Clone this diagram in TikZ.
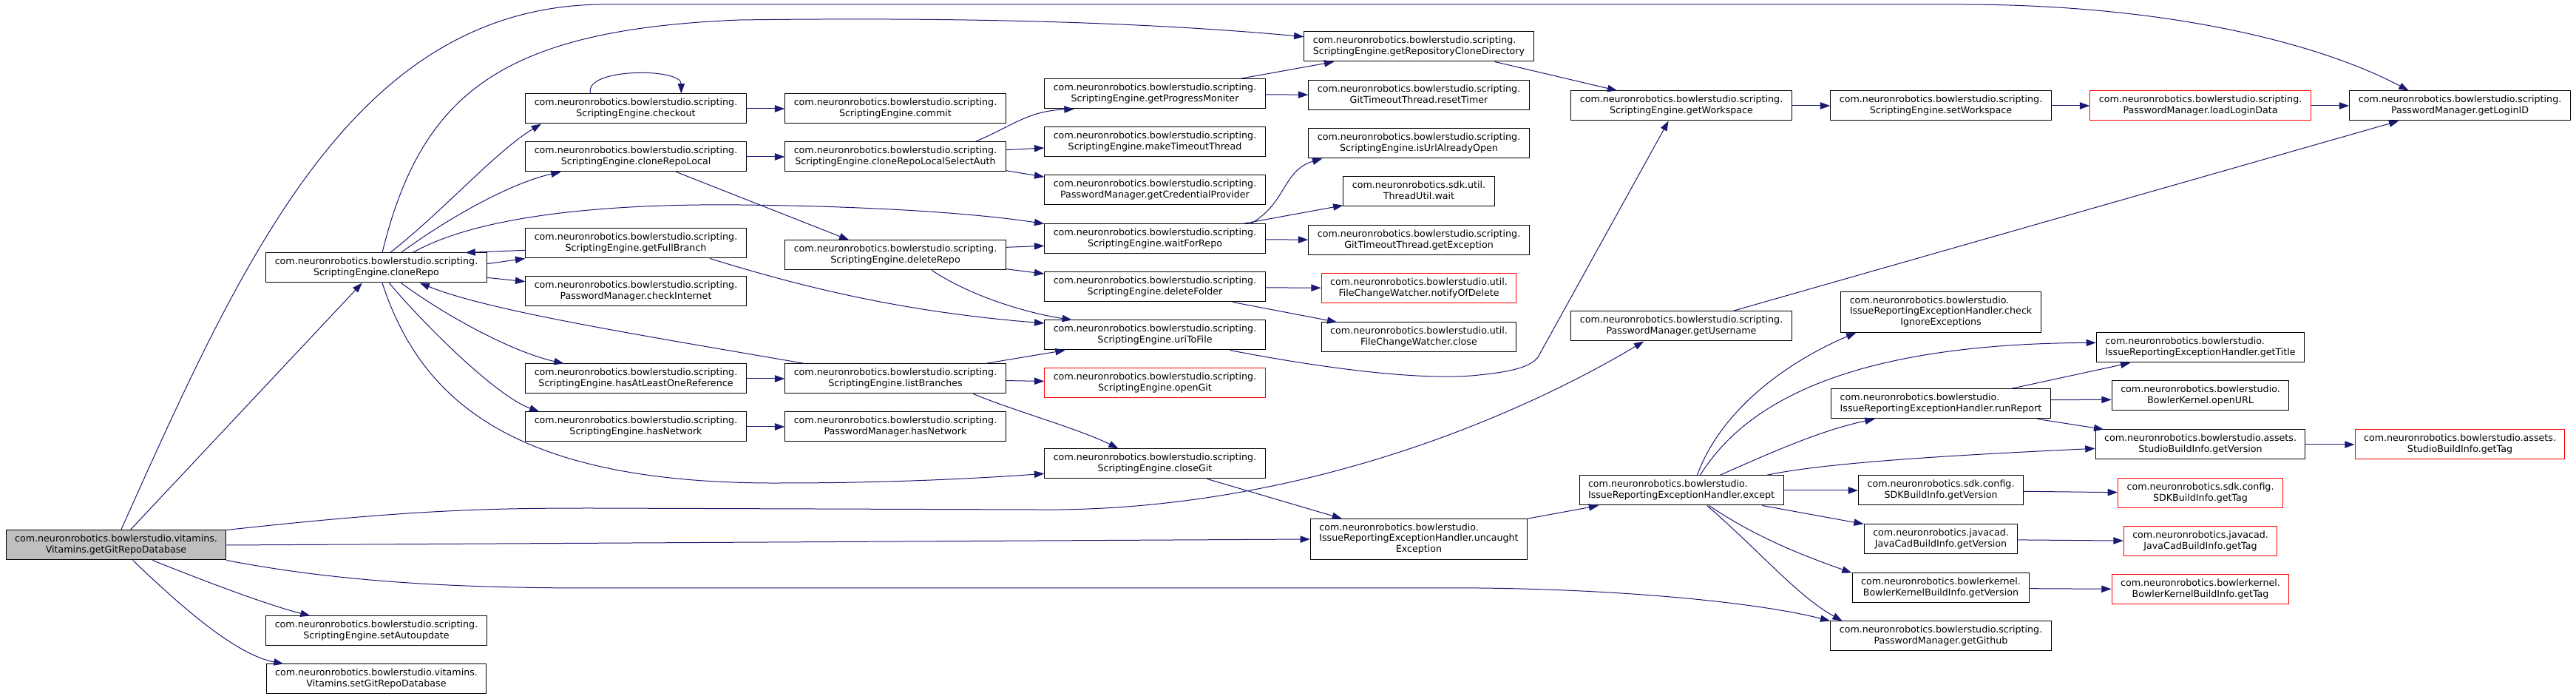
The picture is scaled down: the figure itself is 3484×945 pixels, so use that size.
\documentclass[tikz,border=0pt]{standalone}
\usepackage{fontspec}
\setmainfont{DejaVu Sans}
\usepackage{tikz}
\usetikzlibrary{arrows.meta}
\definecolor{navy}{HTML}{191970}
\definecolor{rootgray}{HTML}{BFBFBF}
\definecolor{undoc}{HTML}{FF0000}
\newcommand{\meth}[2]{\begin{tabular}{@{}c@{}}\multicolumn{1}{@{}l@{}}{#1}\\#2\end{tabular}}
\newcommand{\methx}[3]{\begin{tabular}{@{}c@{}}\multicolumn{1}{@{}l@{}}{#1}\\\multicolumn{1}{@{}l@{}}{#2}\\#3\end{tabular}}
\newcommand{\pscr}{com.neuronrobotics.bowlerstudio.scripting.}
\newcommand{\pbs}{com.neuronrobotics.bowlerstudio.}
\tikzset{
  >={Triangle[length=10pt,width=7pt]},
  box/.style={draw=black,line width=0.75pt,fill=white,inner xsep=9pt,inner ysep=4pt,minimum height=30pt,font=\fontsize{9.5}{11}\selectfont},
  rbox/.style={box,draw=undoc},
  gbox/.style={box,fill=rootgray},
  arr/.style={->,draw=navy,line width=0.75pt},
}
\begin{document}
\begin{tikzpicture}[x=0.75pt,y=0.75pt]
\useasboundingbox (0,0) rectangle (3484,945);
\node[gbox] (root) at (157,208) {\meth{com.neuronrobotics.bowlerstudio.vitamins.}{Vitamins.getGitRepoDatabase}};
\node[box] (cloneRepo) at (509,583) {\meth{\pscr}{ScriptingEngine.cloneRepo}};
\node[box] (setAutoupdate) at (509,92) {\meth{\pscr}{ScriptingEngine.setAutoupdate}};
\node[box] (setGitRepoDatabase) at (509,27) {\meth{com.neuronrobotics.bowlerstudio.vitamins.}{Vitamins.setGitRepoDatabase}};
\node[box] (checkout) at (860,798) {\meth{\pscr}{ScriptingEngine.checkout}};
\node[box] (cloneRepoLocal) at (860,733) {\meth{\pscr}{ScriptingEngine.cloneRepoLocal}};
\node[box] (getFullBranch) at (860,616) {\meth{\pscr}{ScriptingEngine.getFullBranch}};
\node[box] (checkInternet) at (860,551) {\meth{\pscr}{PasswordManager.checkInternet}};
\node[box] (hasAtLeastOne) at (860,433) {\meth{\pscr}{ScriptingEngine.hasAtLeastOneReference}};
\node[box] (seHasNetwork) at (860,368) {\meth{\pscr}{ScriptingEngine.hasNetwork}};
\node[box] (commit) at (1211,798) {\meth{\pscr}{ScriptingEngine.commit}};
\node[box] (selectAuth) at (1211,733) {\meth{\pscr}{ScriptingEngine.cloneRepoLocalSelectAuth}};
\node[box] (deleteRepo) at (1211,600) {\meth{\pscr}{ScriptingEngine.deleteRepo}};
\node[box] (listBranches) at (1211,433) {\meth{\pscr}{ScriptingEngine.listBranches}};
\node[box] (pmHasNetwork) at (1211,368) {\meth{\pscr}{PasswordManager.hasNetwork}};
\node[box] (progress) at (1562,818) {\meth{\pscr}{ScriptingEngine.getProgressMoniter}};
\node[box] (makeTimeout) at (1562,753) {\meth{\pscr}{ScriptingEngine.makeTimeoutThread}};
\node[box] (credProvider) at (1562,688) {\meth{\pscr}{PasswordManager.getCredentialProvider}};
\node[box] (waitForRepo) at (1562,622) {\meth{\pscr}{ScriptingEngine.waitForRepo}};
\node[box] (deleteFolder) at (1562,557) {\meth{\pscr}{ScriptingEngine.deleteFolder}};
\node[box] (urlToFile) at (1562,492) {\meth{\pscr}{ScriptingEngine.uriToFile}};
\node[rbox] (openGit) at (1562,427) {\meth{\pscr}{ScriptingEngine.openGit}};
\node[box] (closeGit) at (1562,318) {\meth{\pscr}{ScriptingEngine.closeGit}};
\node[box] (cloneDir) at (1919,882) {\meth{\pscr}{ScriptingEngine.getRepositoryCloneDirectory}};
\node[box] (resetTimer) at (1919,816) {\meth{\pscr}{GitTimeoutThread.resetTimer}};
\node[box] (urlOpen) at (1919,751) {\meth{\pscr}{ScriptingEngine.isUrlAlreadyOpen}};
\node[box] (threadWait) at (1919,686) {\meth{com.neuronrobotics.sdk.util.}{ThreadUtil.wait}};
\node[box] (getException) at (1919,620) {\meth{\pscr}{GitTimeoutThread.getException}};
\node[rbox] (notifyDelete) at (1919,555) {\meth{com.neuronrobotics.bowlerstudio.util.}{FileChangeWatcher.notifyOfDelete}};
\node[box] (fcwClose) at (1919,489) {\meth{com.neuronrobotics.bowlerstudio.util.}{FileChangeWatcher.close}};
\node[box] (uncaught) at (1919,216) {\methx{\pbs}{IssueReportingExceptionHandler.uncaught}{Exception}};
\node[box] (getWorkspace) at (2274,802) {\meth{\pscr}{ScriptingEngine.getWorkspace}};
\node[box] (getUsername) at (2274,504) {\meth{\pscr}{PasswordManager.getUsername}};
\node[box] (except) at (2274,282) {\meth{\pbs}{IssueReportingExceptionHandler.except}};
\node[box] (setWorkspace) at (2625,802) {\meth{\pscr}{ScriptingEngine.setWorkspace}};
\node[box] (checkIgnore) at (2625,523) {\methx{\pbs}{IssueReportingExceptionHandler.check}{IgnoreExceptions}};
\node[box] (runReport) at (2625,399) {\meth{\pbs}{IssueReportingExceptionHandler.runReport}};
\node[box] (sdkVer) at (2625,282) {\meth{com.neuronrobotics.sdk.config.}{SDKBuildInfo.getVersion}};
\node[box] (jcadVer) at (2625,216) {\meth{com.neuronrobotics.javacad.}{JavaCadBuildInfo.getVersion}};
\node[box] (bkVer) at (2625,150) {\meth{com.neuronrobotics.bowlerkernel.}{BowlerKernelBuildInfo.getVersion}};
\node[box] (getGithub) at (2625,85) {\meth{\pscr}{PasswordManager.getGithub}};
\node[rbox] (loadLogin) at (2976,802) {\meth{\pscr}{PasswordManager.loadLoginData}};
\node[box] (getTitle) at (2976,475) {\meth{\pbs}{IssueReportingExceptionHandler.getTitle}};
\node[box] (openURL) at (2976,410) {\meth{\pbs}{BowlerKernel.openURL}};
\node[box] (studioVer) at (2976,344) {\meth{com.neuronrobotics.bowlerstudio.assets.}{StudioBuildInfo.getVersion}};
\node[rbox] (sdkTag) at (2976,278) {\meth{com.neuronrobotics.sdk.config.}{SDKBuildInfo.getTag}};
\node[rbox] (jcadTag) at (2976,213) {\meth{com.neuronrobotics.javacad.}{JavaCadBuildInfo.getTag}};
\node[rbox] (bkTag) at (2976,148) {\meth{com.neuronrobotics.bowlerkernel.}{BowlerKernelBuildInfo.getTag}};
\node[box] (getLoginID) at (3327,802) {\meth{\pscr}{PasswordManager.getLoginID}};
\node[rbox] (studioTag) at (3327,344) {\meth{com.neuronrobotics.bowlerstudio.assets.}{StudioBuildInfo.getTag}};
\draw[arr] (root) -- (cloneRepo);
\draw[arr] ([xshift=5pt]root.north) .. controls (330,600) and (480,935) .. (813,939) -- (2650,939) .. controls (2950,939) and (3150,880) .. ([xshift=-52pt]getLoginID.north);
\draw[arr] (root.north east) .. controls (550,255) and (650,258) .. (800,258) -- (1400,256) .. controls (1750,252) and (2050,380) .. ([xshift=-38pt]getUsername.south);
\draw[arr] (root.east) -- (uncaught.west);
\draw[arr] (root.south east) .. controls (450,160) and (600,150) .. (800,150) -- (2000,150) .. controls (2200,148) and (2380,130) .. (getGithub.north west);
\draw[arr] ([xshift=37pt]root.south) .. controls (300,150) and (370,125) .. ([xshift=-67pt]setAutoupdate.north);
\draw[arr] ([xshift=17pt]root.south) .. controls (250,120) and (320,60) .. ([xshift=18pt]setGitRepoDatabase.north west);
\draw[arr] ([xshift=6pt]cloneRepo.north) .. controls (570,820) and (680,905) .. (1000,918) .. controls (1300,922) and (1550,915) .. ([yshift=10pt]cloneDir.west);
\draw[arr] ([xshift=14pt]cloneRepo.north) .. controls (600,660) and (670,740) .. ([xshift=-96pt]checkout.south);
\draw[arr] ([xshift=25pt]cloneRepo.north) .. controls (620,660) and (700,700) .. ([xshift=-76pt]cloneRepoLocal.south);
\draw[arr] ([xshift=37pt]cloneRepo.north) .. controls (640,650) and (800,670) .. (1000,668) .. controls (1200,666) and (1330,655) .. (waitForRepo.north west);
\draw[arr] ([yshift=4pt]cloneRepo.east) -- (getFullBranch.south west);
\draw[arr] ([yshift=-7pt]getFullBranch.west) -- ([xshift=-22pt]cloneRepo.north east);
\draw[arr] ([yshift=-10pt]cloneRepo.east) -- ([yshift=10pt]checkInternet.west);
\draw[arr] ([xshift=25pt]cloneRepo.south) .. controls (600,520) and (690,470) .. ([xshift=-73pt]hasAtLeastOne.north);
\draw[arr] ([xshift=13pt]cloneRepo.south) .. controls (570,510) and (670,410) .. ([xshift=-98pt]seHasNetwork.north);
\draw[arr] ([xshift=6pt]cloneRepo.south) .. controls (570,400) and (700,290) .. (1057,292) .. controls (1200,292) and (1320,298) .. ([yshift=-10pt]closeGit.west);
\draw[arr] ([xshift=-92pt]listBranches.north) .. controls (860,493) and (660,525) .. ([xshift=44pt]cloneRepo.south);
\draw[arr] (cloneRepoLocal) -- (selectAuth);
\draw[arr] ([xshift=41pt]cloneRepoLocal.south) -- ([xshift=-47pt]deleteRepo.north);
\draw[arr] ([xshift=-46pt]checkout.north) .. controls +(-10,35) and +(0,35) .. ([xshift=46pt]checkout.north);
\draw[arr] (checkout) -- (commit);
\draw[arr] ([xshift=81pt]selectAuth.north) .. controls (1370,775) and (1390,795) .. ([xshift=-82pt]progress.south);
\draw[arr] ([yshift=7pt]selectAuth.east) -- ([yshift=-6pt]makeTimeout.west);
\draw[arr] ([yshift=-14pt]selectAuth.east) -- ([yshift=-2pt]credProvider.north west);
\draw[arr] ([xshift=86pt]progress.north) -- ([xshift=-86pt]cloneDir.south);
\draw[arr] (progress) -- (resetTimer);
\draw[arr] ([xshift=77pt]cloneDir.south) -- ([xshift=-65pt]getWorkspace.north);
\foreach \u/\v in {getWorkspace/setWorkspace,setWorkspace/loadLogin,loadLogin/getLoginID} \draw[arr] (\u)--(\v);
\draw[arr] ([xshift=97pt]waitForRepo.north) .. controls (1740,670) and (1735,715) .. ([xshift=-98pt]urlOpen.south);
\draw[arr] ([xshift=89pt]waitForRepo.north) -- ([yshift=-14pt]threadWait.west);
\draw[arr] (waitForRepo) -- (getException);
\draw[arr] ([yshift=8pt]deleteRepo.east) -- ([yshift=-7pt]waitForRepo.west);
\draw[arr] ([yshift=-14pt]deleteRepo.east) -- ([yshift=-2pt]deleteFolder.north west);
\draw[arr] ([xshift=37pt]deleteRepo.south) .. controls (1320,540) and (1400,520) .. ([xshift=-84pt]urlToFile.north);
\draw[arr] ([xshift=75pt]getFullBranch.south) .. controls (1060,565) and (1200,525) .. ([yshift=12pt]urlToFile.west);
\draw[arr] ([xshift=91pt]listBranches.north) -- ([xshift=-91pt]urlToFile.south);
\draw[arr] (listBranches) -- (openGit);
\draw[arr] ([xshift=79pt]listBranches.south) .. controls (1370,390) and (1460,365) .. ([xshift=-37pt]closeGit.north);
\draw[arr] (hasAtLeastOne) -- (listBranches);
\draw[arr] (seHasNetwork) -- (pmHasNetwork);
\draw[arr] (deleteFolder) -- (notifyDelete);
\draw[arr] ([xshift=79pt]deleteFolder.south) -- ([xshift=-83pt]fcwClose.north);
\draw[arr] ([xshift=76pt]urlToFile.south) .. controls (1800,445) and (1930,430) .. (2000,438) .. controls (2050,443) and (2070,450) .. (2080,462) -- ([xshift=-13pt]getWorkspace.south);
\draw[arr] ([xshift=52pt]getUsername.north) -- ([xshift=-62pt]getLoginID.south);
\draw[arr] ([xshift=53pt]closeGit.south) -- ([xshift=-78pt]uncaught.north);
\draw[arr] (uncaught.north east) -- ([xshift=20pt]except.south west);
\draw[arr] ([xshift=16pt]except.north) .. controls (2335,410) and (2450,470) .. ([xshift=-86pt]checkIgnore.south);
\draw[arr] ([xshift=19pt]except.north) .. controls (2360,400) and (2500,480) .. ([yshift=5pt]getTitle.west);
\draw[arr] ([xshift=39pt]except.north) .. controls (2410,340) and (2470,365) .. ([xshift=-67pt]runReport.south);
\draw[arr] ([xshift=86pt]except.north) .. controls (2470,320) and (2650,330) .. ([yshift=-4pt]studioVer.west);
\draw[arr] (except) -- (sdkVer);
\draw[arr] ([xshift=82pt]except.south) -- (jcadVer.north west);
\draw[arr] ([xshift=28pt]except.south) .. controls (2380,215) and (2450,190) .. (bkVer.north west);
\draw[arr] ([xshift=26pt]except.south) .. controls (2380,200) and (2430,140) .. ([xshift=-100pt]getGithub.north);
\draw[arr] ([xshift=71pt]runReport.north) -- ([xshift=-71pt]getTitle.south);
\draw[arr] ([yshift=4pt]runReport.east) -- ([yshift=-4pt]openURL.west);
\draw[arr] ([xshift=98pt]runReport.south) -- ([xshift=-98pt]studioVer.north);
\foreach \u/\v in {studioVer/studioTag,sdkVer/sdkTag,jcadVer/jcadTag,bkVer/bkTag} \draw[arr] (\u)--(\v);
\end{tikzpicture}
\end{document}
